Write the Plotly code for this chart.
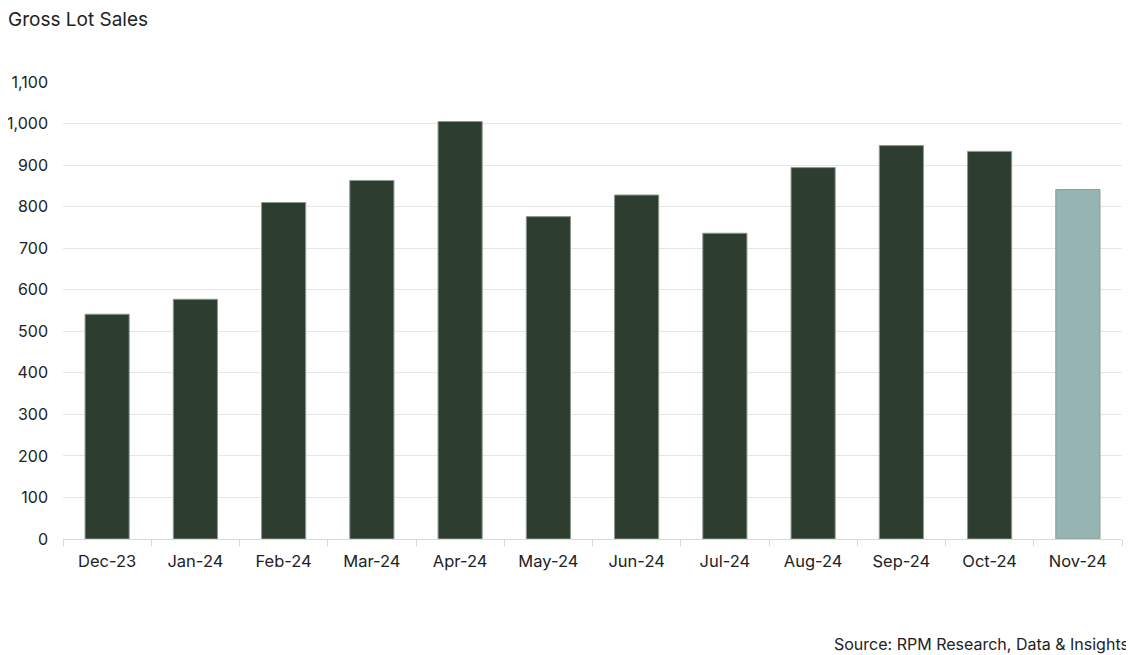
import plotly.graph_objects as go

months = ["Dec-23", "Jan-24", "Feb-24", "Mar-24", "Apr-24", "May-24",
          "Jun-24", "Jul-24", "Aug-24", "Sep-24", "Oct-24", "Nov-24"]
lot_sales = [541, 577, 810, 863, 1005, 776, 828, 736, 894, 947, 933, 841]
bar_colors = ["#2d3e30"] * 11 + ["#95b4b2"]

FONT = "Inter"

fig = go.Figure(go.Bar(
    x=months, y=lot_sales,
    marker=dict(color=bar_colors, line=dict(color="#8a9a8c", width=1)),
))

# page has an 8px body margin, so the figure is shrunk by that much
fig.update_layout(
    width=1126, height=647,
    paper_bgcolor="white", plot_bgcolor="white",
    margin=dict(l=55, r=12, t=74, b=116),
    bargap=0.5,
    showlegend=False,
    font=dict(family=FONT, size=16, color="#222222"),
    title=dict(text="Gross Lot Sales", x=0.0, xanchor="left", y=0.983, yanchor="middle",
               font=dict(family=FONT, size=19, color="#222222")),
)
fig.update_xaxes(
    showline=True, linecolor="#d9d9d9", linewidth=1,
    ticks="outside", tickson="boundaries", tickcolor="#d9d9d9", ticklen=6,
    showgrid=False, tickfont=dict(size=16.5), automargin=False,
    ticklabelstandoff=7,
)
fig.update_yaxes(
    range=[0, 1100], dtick=100, tickformat=",",
    showgrid=True, gridcolor="#e6e6e6", gridwidth=1,
    zeroline=False, ticks="", ticklabelstandoff=14, automargin=False,
)
fig.add_annotation(
    text="Source: RPM Research, Data & Insights",
    xref="paper", yref="paper", x=1.0085, y=-0.23,
    xanchor="right", yanchor="middle", showarrow=False,
    font=dict(family=FONT, size=16, color="#222222"),
)

fig.write_html("out.html")
